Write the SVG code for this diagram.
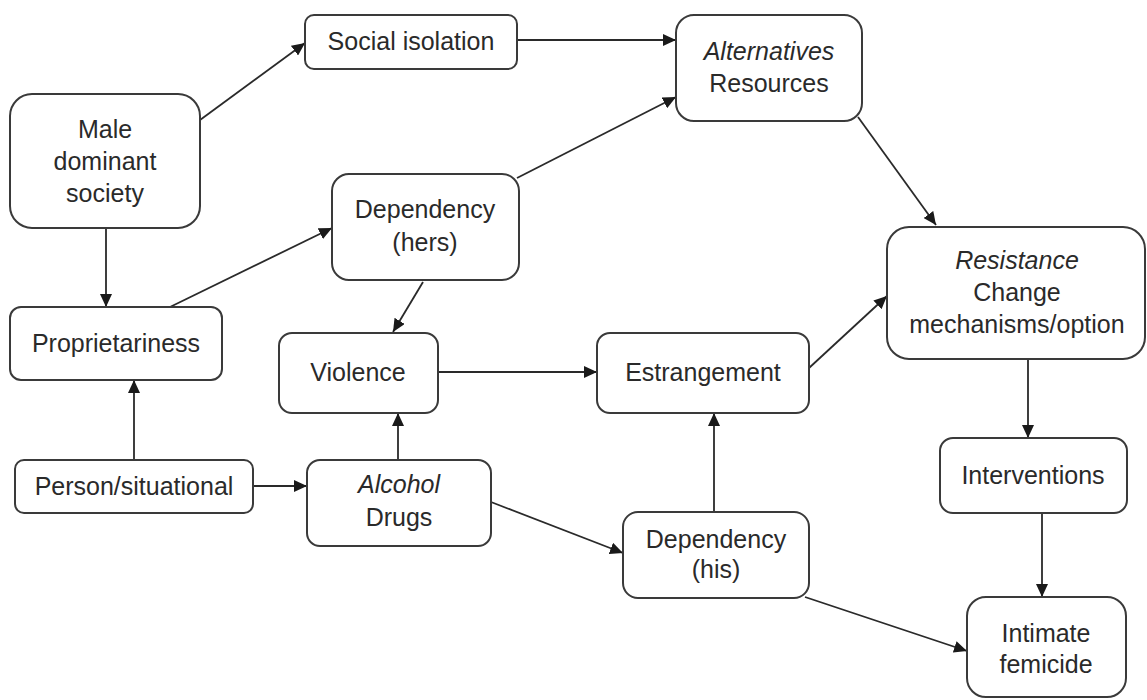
<svg xmlns="http://www.w3.org/2000/svg" width="1147" height="700" viewBox="0 0 1147 700">
<style>
.box{fill:#fff;stroke:#3a3a3a;stroke-width:2}
.t{font-family:"Liberation Sans",Arial,sans-serif;font-size:25px;fill:#2a2a2a;text-anchor:middle}
.i{font-style:italic}
.c{stroke:#2a2a2a;stroke-width:1.8;fill:none;marker-end:url(#ah)}
</style>
<defs>
<marker id="ah" markerUnits="userSpaceOnUse" markerWidth="14" markerHeight="12" refX="13" refY="6" orient="auto">
<path d="M0,0 L13,6 L0,12 z" fill="#1a1a1a"/>
</marker>
</defs>
<rect width="1147" height="700" fill="#fff"/>
<g id="connectors">
<line class="c" x1="200" y1="120" x2="305" y2="43"/>
<line class="c" x1="517" y1="40" x2="676" y2="40"/>
<line class="c" x1="517" y1="178" x2="676" y2="97"/>
<line class="c" x1="858" y1="117" x2="936" y2="225"/>
<line class="c" x1="106" y1="228" x2="106" y2="307"/>
<line class="c" x1="170" y1="307" x2="332" y2="228"/>
<line class="c" x1="423" y1="282" x2="393" y2="332"/>
<line class="c" x1="134" y1="460" x2="134" y2="380"/>
<line class="c" x1="253" y1="486" x2="307" y2="486"/>
<line class="c" x1="398" y1="460" x2="398" y2="413"/>
<line class="c" x1="438" y1="372" x2="597" y2="372"/>
<line class="c" x1="809" y1="368" x2="887" y2="296"/>
<line class="c" x1="491" y1="502" x2="623" y2="553"/>
<line class="c" x1="714" y1="512" x2="714" y2="413"/>
<line class="c" x1="805" y1="597" x2="967" y2="651"/>
<line class="c" x1="1028" y1="359" x2="1028" y2="438"/>
<line class="c" x1="1042" y1="513" x2="1042" y2="597"/>
</g>
<g id="male">
<rect class="box" x="10" y="94" width="190" height="134" rx="22"/>
<text class="t" x="105" y="138">Male</text>
<text class="t" x="105" y="170">dominant</text>
<text class="t" x="105" y="202">society</text>
</g>
<g id="social">
<rect class="box" x="305" y="15" width="212" height="54" rx="9"/>
<text class="t" x="411" y="50">Social isolation</text>
</g>
<g id="alternatives">
<rect class="box" x="676" y="15" width="186" height="106" rx="18"/>
<text class="t i" x="769" y="60">Alternatives</text>
<text class="t" x="769" y="92">Resources</text>
</g>
<g id="dephers">
<rect class="box" x="332" y="174" width="187" height="106" rx="17"/>
<text class="t" x="425" y="218">Dependency</text>
<text class="t" x="425" y="251">(hers)</text>
</g>
<g id="proprietariness">
<rect class="box" x="10" y="307" width="212" height="73" rx="11"/>
<text class="t" x="116" y="352">Proprietariness</text>
</g>
<g id="violence">
<rect class="box" x="279" y="333" width="159" height="80" rx="13"/>
<text class="t" x="358" y="381">Violence</text>
</g>
<g id="estrangement">
<rect class="box" x="597" y="333" width="212" height="80" rx="13"/>
<text class="t" x="703" y="381">Estrangement</text>
</g>
<g id="resistance">
<rect class="box" x="887" y="227" width="258" height="132" rx="22"/>
<text class="t i" x="1017" y="269">Resistance</text>
<text class="t" x="1017" y="301">Change</text>
<text class="t" x="1017" y="333">mechanisms/option</text>
</g>
<g id="person">
<rect class="box" x="15" y="460" width="238" height="53" rx="9"/>
<text class="t" x="134" y="495">Person/situational</text>
</g>
<g id="alcohol">
<rect class="box" x="307" y="460" width="184" height="86" rx="13"/>
<text class="t i" x="399" y="493">Alcohol</text>
<text class="t" x="399" y="526">Drugs</text>
</g>
<g id="dephis">
<rect class="box" x="623" y="512" width="186" height="86" rx="15"/>
<text class="t" x="716" y="548">Dependency</text>
<text class="t" x="716" y="578">(his)</text>
</g>
<g id="interventions">
<rect class="box" x="940" y="438" width="187" height="75" rx="13"/>
<text class="t" x="1033" y="484">Interventions</text>
</g>
<g id="femicide">
<rect class="box" x="967" y="597" width="159" height="100" rx="19"/>
<text class="t" x="1046" y="642">Intimate</text>
<text class="t" x="1046" y="673">femicide</text>
</g>
</svg>
